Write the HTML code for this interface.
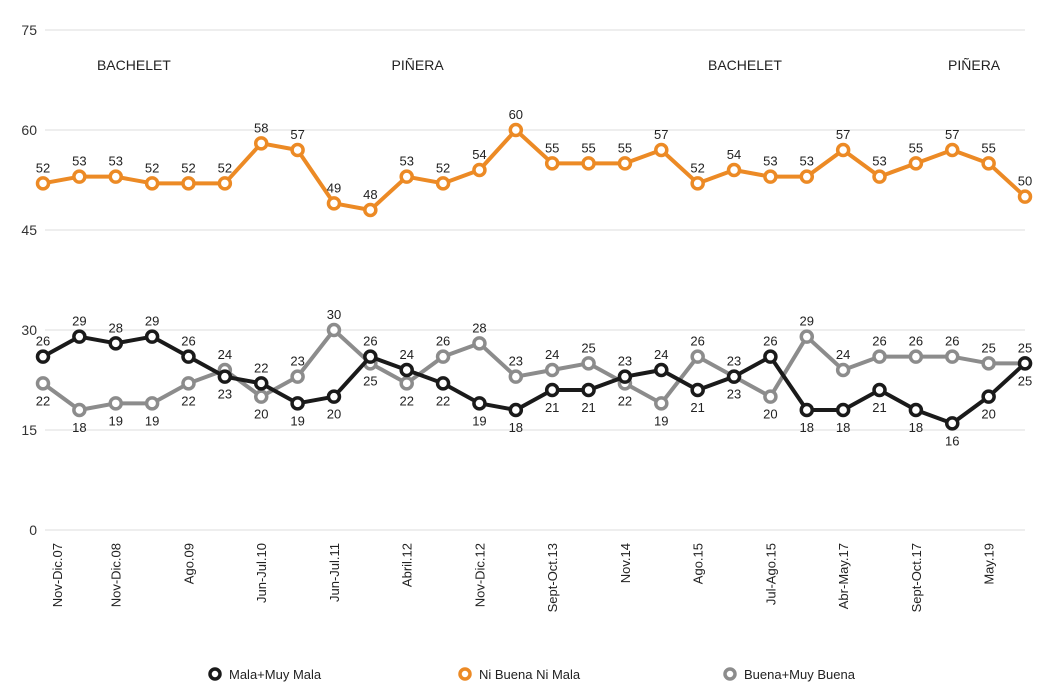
<!DOCTYPE html>
<html><head><meta charset="utf-8">
<style>
html,body{margin:0;padding:0;background:#fff;}
svg{display:block;font-family:"Liberation Sans",sans-serif;}
</style></head>
<body>
<svg id="chart" width="1061" height="687" viewBox="0 0 1061 687">
<g id="grid"></g>
<g id="yaxis"></g>
<g id="xaxis"></g>
<g id="periods"></g>
<g id="series"></g>
<g id="legend"></g>
</svg>
<script>
const categories = ["Nov-Dic.07","","Nov-Dic.08","","Ago.09","","Jun-Jul.10","","Jun-Jul.11","","Abril.12","","Nov-Dic.12","","Sept-Oct.13","","Nov.14","","Ago.15","","Jul-Ago.15","","Abr-May.17","","Sept-Oct.17","","May.19",""];
const malaValues = [26,29,28,29,26,23,22,19,20,26,24,22,19,18,21,21,23,24,21,23,26,18,18,21,18,16,20,25];
const niValues = [52,53,53,52,52,52,58,57,49,48,53,52,54,60,55,55,55,57,52,54,53,53,57,53,55,57,55,50];
const buenaValues = [22,18,19,19,22,24,20,23,30,25,22,26,28,23,24,25,22,19,26,23,20,29,24,26,26,26,25,25];
const yTicks = [0,15,30,45,60,75];
const periodLabels = ["BACHELET","PIÑERA","BACHELET","PIÑERA"];
const periodCenters = [2.5,10.3,19.3,25.6];
const legendLabels = ["Mala+Muy Mala","Ni Buena Ni Mala","Buena+Muy Buena"];

const NS="http://www.w3.org/2000/svg";
const X0=43, X1=1025, Y0=530, Y75=30;
const xs=i=>X0+(X1-X0)*i/(categories.length-1);
const ys=v=>Y0+(Y75-Y0)*v/75;
function mk(tag,attrs,parent){const e=document.createElementNS(NS,tag);for(const k in attrs)e.setAttribute(k,attrs[k]);parent.appendChild(e);return e;}

const grid=document.getElementById('grid'), yaxis=document.getElementById('yaxis');
yTicks.forEach(t=>{
  const l=mk('line',{x1:45,x2:1025,y1:ys(t),y2:ys(t),stroke:'#dcdcdc','stroke-width':1},grid);
  
  
  const tx=mk('text',{x:37,y:ys(t)+5,'text-anchor':'end','font-size':14,fill:'#333'},yaxis);
  tx.textContent=t;
  
  
});

const xaxis=document.getElementById('xaxis');
categories.forEach((c,i)=>{
  if(!c)return;
  const x = i===0 ? 57 : xs(i);
  const tx=mk('text',{transform:`translate(${x+5},543) rotate(-90)`,'text-anchor':'end','font-size':13,fill:'#222'},xaxis);
  tx.textContent=c;
  
  
});

const periods=document.getElementById('periods');
periodLabels.forEach((p,i)=>{
  const tx=mk('text',{x:xs(periodCenters[i]),y:70,'text-anchor':'middle','font-size':14,fill:'#222'},periods);
  tx.textContent=p;
  
  
});

const series=document.getElementById('series');
function drawSeries(vals,color,name,labelPos){
  const g=mk('g',{},series);
  
  
  const pl=mk('polyline',{points:vals.map((v,i)=>xs(i)+','+ys(v)).join(' '),fill:'none',stroke:color,'stroke-width':4,'stroke-linejoin':'round'},g);
  
  
  vals.forEach((v,i)=>{
    const c=mk('circle',{cx:xs(i),cy:ys(v),r:5.5,fill:'#fff',stroke:color,'stroke-width':3.5},g);
    
    
    const above=labelPos(i);
    const t=mk('text',{x:xs(i),y:above?ys(v)-11:ys(v)+22,'text-anchor':'middle','font-size':13,fill:'#222'},g);
    t.textContent=v;
    
    
  });
}
drawSeries(buenaValues,'#8c8c8c','buena',i=>buenaValues[i]>=malaValues[i]);
drawSeries(malaValues,'#1a1a1a','mala',i=>malaValues[i]>buenaValues[i]);
drawSeries(niValues,'#ec8a25','ni-buena-ni-mala',i=>true);

const legend=document.getElementById('legend');
const legColors=['#1a1a1a','#ec8a25','#8c8c8c'];
const legX=[215,465,730];
legendLabels.forEach((l,i)=>{
  const g=mk('g',{},legend);
  
  
  mk('circle',{cx:legX[i],cy:674,r:5,fill:'#fff',stroke:legColors[i],'stroke-width':3.5},g);
  const t=mk('text',{x:legX[i]+14,y:679,'font-size':13,fill:'#222'},g);
  t.textContent=l;
});
</script>
</body></html>
